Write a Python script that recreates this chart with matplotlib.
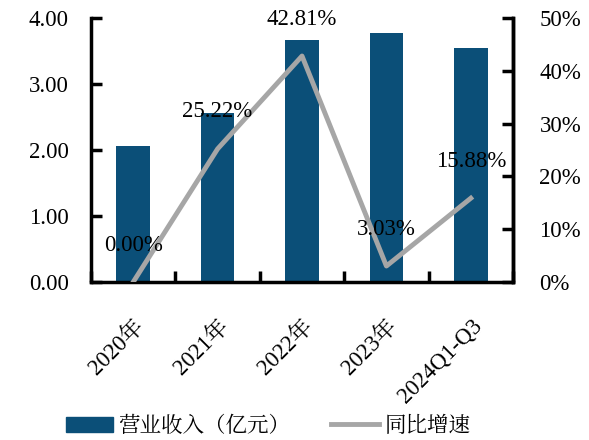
import numpy as np
import matplotlib.pyplot as plt
import matplotlib.transforms as mtrans
from matplotlib.lines import Line2D
from matplotlib.patches import Patch

plt.rcParams['font.family'] = ['Liberation Serif', 'Noto Serif CJK SC', 'Noto Sans CJK SC', 'DejaVu Sans']

cats = ["2020年", "2021年", "2022年", "2023年", "2024Q1-Q3"]
revenue = [2.06, 2.56, 3.66, 3.78, 3.54]
growth = [0.00, 25.22, 42.81, 3.03, 15.88]
left_ticks = [0, 1, 2, 3, 4]
right_ticks = [0, 10, 20, 30, 40, 50]

bar_c = "#0B4F78"
line_c = "#A6A6A6"
fs = 16.5

fig = plt.figure(figsize=(5.89, 4.40), dpi=100)
ax = fig.add_axes([0.1545, 0.359, 0.7165, 0.6])
x = np.arange(len(cats))
ax.bar(x, revenue, width=0.4, color=bar_c, zorder=2)
ax.set_xlim(-0.5, 4.5)
ax.set_ylim(0, 4)
ax.set_yticks(left_ticks)
ax.set_yticklabels([f"{v:.2f}" for v in left_ticks], fontsize=fs)
ax.set_xticks(np.arange(-0.5, 5, 1), minor=False)
ax.set_xticklabels([])
ax.set_xticks(x, minor=True)
ax.set_xticklabels(cats, minor=True, rotation=45, ha='right', va='top',
                   rotation_mode='anchor', fontsize=fs)
shift = mtrans.ScaledTranslation(-8 / 100, 0, fig.dpi_scale_trans)
for lab in ax.get_xticklabels(minor=True):
    lab.set_transform(lab.get_transform() + shift)
ax.tick_params(axis='x', which='minor', length=0, pad=24)
ax.tick_params(axis='x', which='major', direction='in', length=8, width=2.5)
ax.tick_params(axis='y', direction='in', length=8, width=2.5, pad=16)
for s in ['left', 'bottom', 'right']:
    ax.spines[s].set_linewidth(2.5)
ax.spines['top'].set_visible(False)

ax2 = ax.twinx()
ax2.plot(x, growth, color=line_c, lw=3.5, zorder=3)
ax2.set_ylim(0, 50)
ax2.set_yticks(right_ticks)
ax2.set_yticklabels([f"{v}%" for v in right_ticks], fontsize=fs)
ax2.tick_params(axis='y', direction='in', length=8, width=2.5, pad=19)
ax2.spines['right'].set_linewidth(2.5)
ax2.spines['top'].set_visible(False)
for s in ['left', 'bottom']:
    ax2.spines[s].set_visible(False)
for xi, g in zip(x, growth):
    ax2.annotate(f"{g:.2f}%", (xi, g), xytext=(0, 37), textcoords='offset pixels',
                 ha='center', va='center', fontsize=fs)

handles = [Patch(color=bar_c), Line2D([0], [0], color=line_c, lw=3.5)]
fig.legend(handles, ["营业收入（亿元）", "同比增速"], loc='center', bbox_to_anchor=(0.455, 0.03),
           ncol=2, frameon=False, fontsize=15.5, handlelength=2.2, columnspacing=1.9,
           handletextpad=0.25)

fig.savefig("out.png", dpi=100)
